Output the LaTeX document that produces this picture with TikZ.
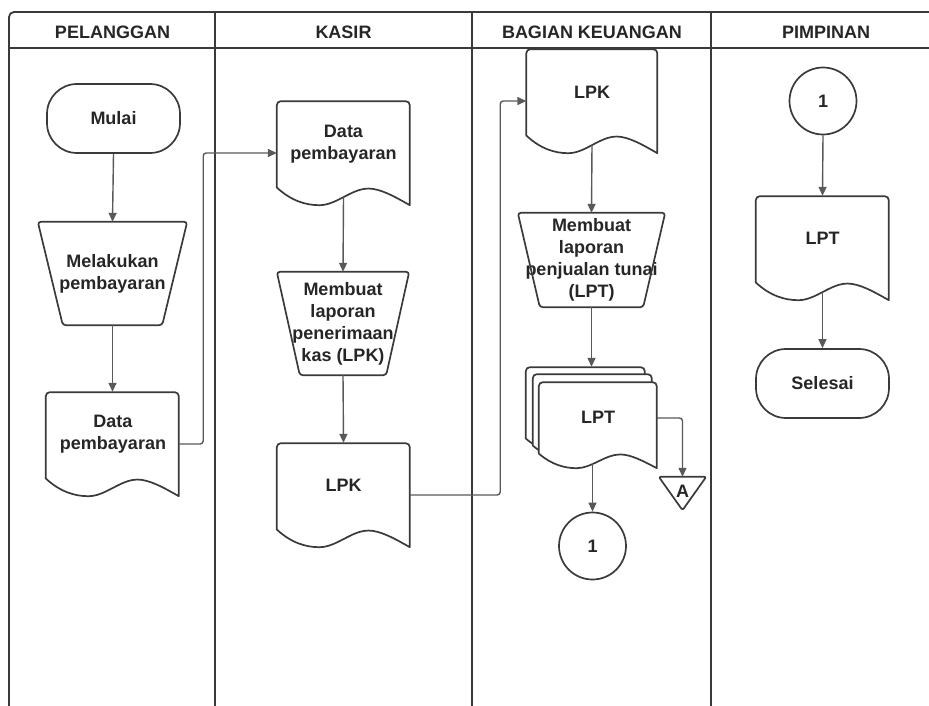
\documentclass[tikz,border=0pt]{standalone}
\usepackage{fontspec}
\setmainfont{Liberation Sans}
\usetikzlibrary{arrows.meta,calc}

\definecolor{ink}{HTML}{262626}
\definecolor{edge}{HTML}{3A3A3A}
\definecolor{wire}{HTML}{595959}

\tikzset{
  lane/.style={draw=edge, line width=1.8pt},
  shp/.style={draw=edge, line width=1.7pt, line join=round},
  shpfill/.style={shp, fill=white},
  lbl/.style={font=\fontsize{18}{22}\selectfont\bfseries, text=ink, align=center, inner sep=0pt},
  slot/.style={lbl, minimum width=#1},
  flow/.style={draw=wire, line width=1.4pt, rounded corners=3pt,
               -{Triangle[length=9pt,width=8pt]}},
  term/.style={shp, lbl, rounded corners=30pt, minimum width=133pt, minimum height=69pt},
  conn/.style={shp, lbl, circle, minimum size=67pt},
}

% document symbol drawn inside the frame of node #2 (width #3, height #4)
\newcommand{\docshape}[4][shp]{%
  \begin{scope}[shift={(#2.south west)}]
    \path[#1] (#3,0) -- (#3,{#4-4}) arc[start angle=0,end angle=90,radius=4]
      -- (4,#4) arc[start angle=90,end angle=180,radius=4] -- (0,{0.17*#4})
      .. controls ({0.11*#3},{0.04*#4}) and ({0.22*#3},0) .. ({0.32*#3},0)
      .. controls ({0.45*#3},0) and ({0.56*#3},{0.16*#4}) .. ({0.69*#3},{0.16*#4})
      .. controls ({0.78*#3},{0.16*#4}) and ({0.89*#3},{0.08*#4}) .. (#3,0) -- cycle;
  \end{scope}}

% manual operation (trapezoid) in the frame of node #1, bottom inset #2
\newcommand{\manop}[2]{%
  \path[shp, rounded corners=3pt] (#1.north west) -- (#1.north east)
    -- ([xshift=-#2pt]#1.south east) -- ([xshift=#2pt]#1.south west) -- cycle;}

\begin{document}
\begin{tikzpicture}[x=1pt,y=1pt]
\useasboundingbox (0,0) rectangle (929,-706);

% swimlane frame
\draw[lane, rounded corners=5pt] (9,-706) -- (9,-12) -- (929,-12);
\draw[lane] (9,-48) -- (929,-48);
\foreach \lx in {215,472,711} \draw[lane] (\lx,-12) -- (\lx,-706);

\node[lbl] (h1) at (112.5,-32) {PELANGGAN};
\node[lbl] (h2) at (343.5,-32) {KASIR};
\node[lbl] (h3) at (592,-32) {BAGIAN KEUANGAN};
\node[lbl] (h4) at (826,-32) {PIMPINAN};

% PELANGGAN
\node[term] (mulai) at (113.5,-118.5) {Mulai};
\node[slot=149pt, minimum height=103pt] (t1) at (112.5,-273.5) {Melakukan\\pembayaran};
\manop{t1}{25}
\node[slot=133pt, minimum height=104pt] (d1) at (112.5,-444) {};
\docshape{d1}{133}{104}
\node[lbl] (d1t) at (113,-434) {Data\\pembayaran};

% KASIR
\node[slot=133pt, minimum height=104pt] (d2) at (343.5,-153) {};
\docshape{d2}{133}{104}
\node[lbl] (d2t) at (343.5,-144) {Data\\pembayaran};
\node[slot=132pt, minimum height=103pt] (t2) at (343,-323.5) {Membuat\\laporan\\penerimaan\\kas (LPK)};
\manop{t2}{23}
\node[slot=133pt, minimum height=104pt] (d3) at (343.5,-495) {};
\docshape{d3}{133}{104}
\node[lbl] (d3t) at (343.5,-485) {LPK};

% BAGIAN KEUANGAN
\node[slot=131pt, minimum height=104pt] (d4) at (592,-101) {};
\docshape{d4}{131}{104}
\node[lbl] (d4t) at (592,-92) {LPK};
\node[slot=147pt, minimum height=94pt] (t3) at (591.5,-260) {Membuat\\laporan\\penjualan tunai\\(LPT)};
\manop{t3}{22}
\node[slot=119pt, minimum height=86pt] (m1) at (585.5,-410) {};
\node[slot=119pt, minimum height=86pt] (m2) at (592.5,-417) {};
\node[slot=118pt, minimum height=86pt] (m3) at (598,-425) {};
\docshape[shpfill]{m1}{119}{86}
\docshape[shpfill]{m2}{119}{86}
\docshape[shpfill]{m3}{118}{86}
\node[lbl] (m3t) at (598,-417) {LPT};
\node[conn] (c1) at (592.5,-546) {1};
\node[slot=47pt, minimum height=33pt] (tA) at (682.5,-493.5) {};
\path[shp, rounded corners=2pt] (tA.north west) -- (tA.north east) -- (tA.south) -- cycle;
\node[lbl] (tAt) at (682.5,-491) {A};

% PIMPINAN
\node[conn] (c2) at (823,-101) {1};
\node[slot=133pt, minimum height=104pt] (d5) at (822.5,-248) {};
\docshape{d5}{133}{104}
\node[lbl] (d5t) at (822.5,-238) {LPT};
\node[term] (selesai) at (822.5,-383.5) {Selesai};

% flow lines
\draw[flow] (mulai.south) -- (t1.north);
\draw[flow] (t1.south) -- (d1.north);
\draw[flow] (d1.east) -- ++(24,0) |- (d2.west);
\draw[flow] ([yshift=8pt]d2.south) -- (t2.north);
\draw[flow] (t2.south) -- (d3.north);
\draw[flow] (d3.east) -- ++(90,0) |- (d4.west);
\draw[flow] ([yshift=8pt]d4.south) -- (t3.north);
\draw[flow] (t3.south) -- (t3.south |- m1.north);
\draw[flow] ($(c1.north |- m3.south)+(0,5)$) -- (c1.north);
\draw[flow] ([yshift=7pt]m3.east) -| (tA.north);
\draw[flow] (c2.south) -- (d5.north);
\draw[flow] ([yshift=8pt]d5.south) -- (selesai.north);
\end{tikzpicture}
\end{document}
